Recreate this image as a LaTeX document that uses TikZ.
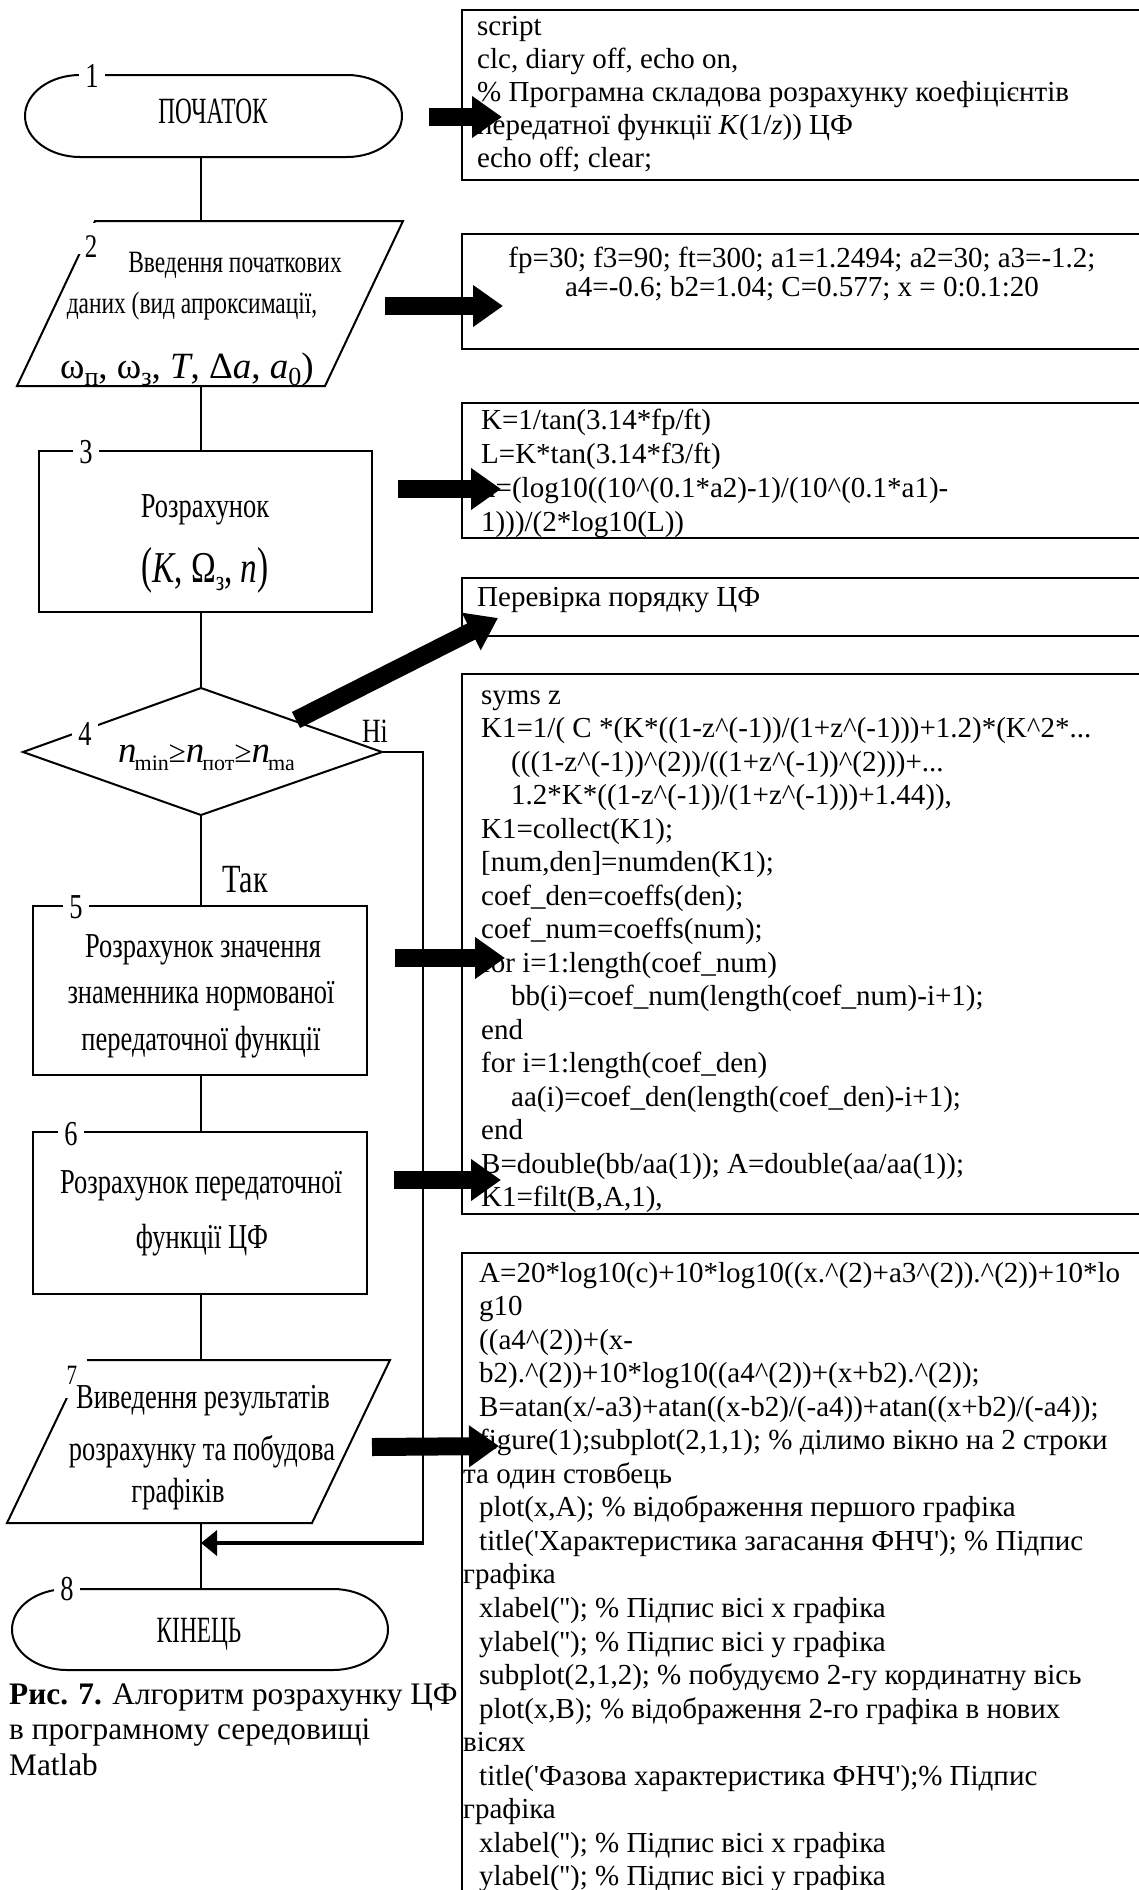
\documentclass[tikz,border=0pt]{standalone}
\usepackage{fontspec}
\setmainfont{Liberation Serif}
\newfontfamily\cond[FakeStretch=0.756]{Liberation Serif}
\newfontfamily\condc[FakeStretch=0.63]{Liberation Serif}
\usetikzlibrary{arrows.meta}
\newcommand\fsz[2]{\fontsize{#1}{#2}\selectfont}
\newcommand\sq{\textquotesingle}
\newcommand\ca{\textasciicircum}
\newcommand\lowsub[3]{\raisebox{-#1pt}{\fsz{#2}{#2}#3}}
\begin{document}
\begin{tikzpicture}[x=1pt,y=-1pt,
  fc/.style={line width=2pt},
  conn/.style={line width=1.3pt},
  cbox/.style={draw,line width=2.4pt,inner sep=0pt,anchor=north west},
  lbl/.style={fill=white,inner xsep=6pt,inner ysep=0pt,font=\cond\fsz{35}{35}},
  ftext/.style={font=\cond\fsz{35}{35},inner sep=0pt,anchor=base},
  ptext/.style={font=\cond\fsz{31}{31},inner sep=0pt,anchor=base},
  ttext/.style={font=\condc\fsz{37}{37},inner sep=0pt,anchor=base},
  codetext/.style={inner sep=0pt,anchor=base west},
  blockarrow/.style={line width=18pt,-{Triangle[length=30pt,width=40pt]}},
  retarrow/.style={line width=3.5pt,-{Triangle[length=16pt,width=25pt]}}]
\useasboundingbox (0,0) rectangle (1139,1890);
\clip (0,0) rectangle (1139,1890);

% ---------- flowchart shapes ----------
% 1 terminator
\draw[fc] (80,75) -- (347,75) .. controls (377.4,75) and (402,93.4) .. (402,116)
  .. controls (402,138.6) and (377.4,157) .. (347,157) -- (80,157)
  .. controls (49.6,157) and (25,138.6) .. (25,116)
  .. controls (25,93.4) and (49.6,75) .. (80,75) -- cycle;
\coordinate (t1b) at (201,157);
\node[ttext] (t1) at (213,123) {ПОЧАТОК};
\node[lbl] (n1) at (92,76) {1};

% 2 parallelogram
\draw[fc] (95,221) -- (403,221) -- (325,386) -- (17,386) -- cycle;
\coordinate (p2t) at (201,221);
\coordinate (p2b) at (201,386);
\fill[white] (76,222.5) rectangle (106,254);
\node[inner sep=0pt,font=\cond\fsz{33}{33}] (n2) at (91,247) {2};
\node[ptext] (p2l1) at (235,272) {Введення початкових};
\node[ptext] (p2l2) at (192,313) {даних (вид апроксимації,};
\node[inner sep=0pt,anchor=base] (p2l3) at (187,378)
  {\fsz{37}{37}ω\lowsub{7}{26}{п}, ω\lowsub{7}{26}{з}, \textit{T}, Δ\textit{a}, \textit{a}\lowsub{7}{26}{0})};

% 3 process
\node[draw,fc,minimum width=333pt,minimum height=161pt,inner sep=0pt] (r3) at (205.5,531.5) {};
\node[lbl] (n3) at (86,452) {3};
\node[ftext] (r3l1) at (205,517) {Розрахунок};
\node[inner sep=0pt,anchor=base] (r3l2) at (205,582)
  {\cond\fsz{44}{44}\scalebox{1}[1.15]{(}\textit{K}, Ω\lowsub{8}{28}{з}, \textit{n}\scalebox{1}[1.15]{)}};

% 4 decision
\coordinate (d4t) at (201,688);
\coordinate (d4r) at (382,752);
\coordinate (d4b) at (201,815);
\coordinate (d4l) at (23,752);
\draw[fc] (d4t) -- (d4r) -- (d4b) -- (d4l) -- cycle;
\node[lbl] (n4) at (85,734) {4};
\begin{scope}
  \clip (100,700) rectangle (293,800);
  \node[inner sep=0pt,anchor=base west] (d4f) at (118,762)
    {\fsz{37}{37}\textit{n}\kern-2pt\lowsub{8}{22}{min}{\fsz{31}{31}≥}\textit{n}\kern-2pt\lowsub{8}{22}{пот}{\fsz{31}{31}≥}\textit{n}\kern-2pt\lowsub{8}{22}{max}};
\end{scope}
\node[ftext,font=\cond\fsz{34}{34}] (ni) at (375,742) {Ні};
\node[ftext,font=\cond\fsz{40}{40}] (tak) at (245,892) {Так};

% 5 process
\node[draw,fc,minimum width=334pt,minimum height=169pt,inner sep=0pt] (r5) at (200,990.5) {};
\node[lbl] (n5) at (76,907) {5};
\node[ftext] (r5l1) at (203,957) {Розрахунок значення};
\node[ftext] (r5l2) at (201,1003) {знаменника нормованої};
\node[ftext] (r5l3) at (201,1050) {передаточної функції};

% 6 process
\node[draw,fc,minimum width=334pt,minimum height=162pt,inner sep=0pt] (r6) at (200,1213) {};
\node[lbl] (n6) at (71,1134) {6};
\node[ftext] (r6l1) at (201,1193) {Розрахунок передаточної};
\node[ftext] (r6l2) at (202,1248) {функції ЦФ};

% 7 parallelogram
\draw[fc] (85,1360) -- (390,1360) -- (312,1523) -- (7,1523) -- cycle;
\coordinate (p7t) at (201,1360);
\coordinate (p7b) at (201,1523);
\fill[white] (55,1358) rectangle (87,1398);
\node[inner sep=0pt,font=\cond\fsz{28}{28}] (n7) at (72,1375) {7};
\node[ftext] (p7l1) at (203,1408) {Виведення результатів};
\node[ftext] (p7l2) at (202,1460) {розрахунку та побудова};
\node[ftext] (p7l3) at (178,1502) {графіків};

% 8 terminator
\draw[fc] (67,1589) -- (333,1589) .. controls (363.4,1589) and (388,1607.1) .. (388,1629.5)
  .. controls (388,1651.9) and (363.4,1670) .. (333,1670) -- (67,1670)
  .. controls (36.6,1670) and (12,1651.9) .. (12,1629.5)
  .. controls (12,1607.1) and (36.6,1589) .. (67,1589) -- cycle;
\coordinate (t8t) at (201,1589);
\node[ttext] (t8) at (199,1642) {КІНЕЦЬ};
\node[lbl] (n8) at (67,1589) {8};

% ---------- connectors ----------
\draw[conn] (t1b) -- (p2t);
\draw[conn] (p2b) -- (p2b |- r3.north);
\draw[conn] (d4t |- r3.south) -- (d4t);
\draw[conn] (d4b) -- (d4b |- r5.north);
\draw[conn] (d4b |- r5.south) -- (d4b |- r6.north);
\draw[conn] (d4b |- r6.south) -- (p7t);
\draw[conn] (p7b) -- (t8t);
\coordinate (no1) at (423,752);
\coordinate (no2) at (423,1545);
\coordinate (no3) at (423,1543);
\coordinate (ret) at (201,1543);
\draw[conn] (d4r) -- (no1) -- (no2);
\draw[retarrow] (no3) -- (ret);

% ---------- code boxes ----------
\node[cbox,minimum width=684pt,minimum height=170pt] (ba) at (461,9) {};
\node[cbox,minimum width=684pt,minimum height=115pt] (bb) at (461,233) {};
\node[cbox,minimum width=684pt,minimum height=135pt] (bc) at (461,402) {};
\node[cbox,minimum width=684pt,minimum height=58pt] (bd) at (461,577) {};
\node[cbox,minimum width=684pt,minimum height=540pt] (be) at (461,673) {};
\node[cbox,minimum width=684pt,minimum height=700pt] (bf) at (461,1252) {};

\node[codetext] (ta) at (477,35) {\parbox[t]{800pt}{\fsz{29}{33}\raggedright
script\\
clc, diary off, echo on,\\
\% Програмна складова розрахунку коефіцієнтів\\
передатної функції \textit{K}(1/\textit{z})) ЦФ\\
echo off; clear;}};

\node[inner sep=0pt,anchor=base] (tb) at (802,267) {\parbox[t]{680pt}{\fsz{29}{29}\centering
fp=30; f3=90; ft=300; a1=1.2494; a2=30; a3=-1.2;\\
a4=-0.6; b2=1.04; C=0.577; x = 0:0.1:20}};

\node[codetext] (tc) at (481,429) {\parbox[t]{800pt}{\fsz{29}{34}\raggedright
K=1/tan(3.14*fp/ft)\\
L=K*tan(3.14*f3/ft)\\
n=(log10((10\ca(0.1*a2)-1)/(10\ca(0.1*a1)-\\
1)))/(2*log10(L))}};

\node[codetext] (td) at (477,606) {\fsz{29}{33}Перевірка порядку ЦФ};

\node[codetext] (te) at (481,704) {\parbox[t]{800pt}{\fsz{29}{33.5}\raggedright
syms z\\
K1=1/( C *(K*((1-z\ca(-1))/(1+z\ca(-1)))+1.2)*(K\ca2*...\\
\hspace*{30pt}(((1-z\ca(-1))\ca(2))/((1+z\ca(-1))\ca(2)))+...\\
\hspace*{30pt}1.2*K*((1-z\ca(-1))/(1+z\ca(-1)))+1.44)),\\
K1=collect(K1);\\
{[}num,den]=numden(K1);\\
coef\_den=coeffs(den);\\
coef\_num=coeffs(num);\\
for i=1:length(coef\_num)\\
\hspace*{30pt}bb(i)=coef\_num(length(coef\_num)-i+1);\\
end\\
for i=1:length(coef\_den)\\
\hspace*{30pt}aa(i)=coef\_den(length(coef\_den)-i+1);\\
end\\
B=double(bb/aa(1)); A=double(aa/aa(1));\\
K1=filt(B,A,1),}};

\node[codetext] (tf) at (479,1282) {\parbox[t]{800pt}{\fsz{29}{33.55}\raggedright
A=20*log10(c)+10*log10((x.\ca(2)+a3\ca(2)).\ca(2))+10*lo\\
g10\\
((a4\ca(2))+(x-\\
b2).\ca(2))+10*log10((a4\ca(2))+(x+b2).\ca(2));\\
B=atan(x/-a3)+atan((x-b2)/(-a4))+atan((x+b2)/(-a4));\\
figure(1);subplot(2,1,1); \% ділимо вікно на 2 строки\\
\hspace*{-16pt}та один стовбець\\
plot(x,A); \% відображення першого графіка\\
title(\sq Характеристика загасання ФНЧ\sq); \% Підпис\\
\hspace*{-16pt}графіка\\
xlabel(\sq\sq); \% Підпис вісі х графіка\\
ylabel(\sq\sq); \% Підпис вісі у графіка\\
subplot(2,1,2); \% побудуємо 2-гу кординатну вісь\\
plot(x,B); \% відображення 2-го графіка в нових\\
\hspace*{-16pt}вісях\\
title(\sq Фазова характеристика ФНЧ\sq);\% Підпис\\
\hspace*{-16pt}графіка\\
xlabel(\sq\sq); \% Підпис вісі х графіка\\
ylabel(\sq\sq); \% Підпис вісі у графіка}};

% ---------- caption ----------
\node[codetext] (cap) at (9,1704) {\parbox[t]{520pt}{\fsz{31.3}{35.5}\raggedright
\textbf{Рис. 7.} Алгоритм розрахунку ЦФ\\
в програмному середовищі\\
Matlab}};

% ---------- block arrows ----------
\coordinate (a1s) at (429,117); \coordinate (a1e) at (502,117);
\coordinate (a2s) at (385,306); \coordinate (a2e) at (503,306);
\coordinate (a3s) at (398,489); \coordinate (a3e) at (501,489);
\coordinate (a4s) at (296,720); \coordinate (a4e) at (498,618);
\coordinate (a5s) at (395,958); \coordinate (a5e) at (505,958);
\coordinate (a6s) at (394,1180); \coordinate (a6e) at (501,1180);
\coordinate (a7s) at (372,1447); \coordinate (a7e) at (499,1446);
\draw[blockarrow] (a1s) -- (a1e);
\draw[blockarrow] (a2s) -- (a2e);
\draw[blockarrow] (a3s) -- (a3e);
\draw[blockarrow] (a4s) -- (a4e);
\draw[blockarrow] (a5s) -- (a5e);
\draw[blockarrow] (a6s) -- (a6e);
\draw[blockarrow] (a7s) -- (a7e);
\end{tikzpicture}
\end{document}
